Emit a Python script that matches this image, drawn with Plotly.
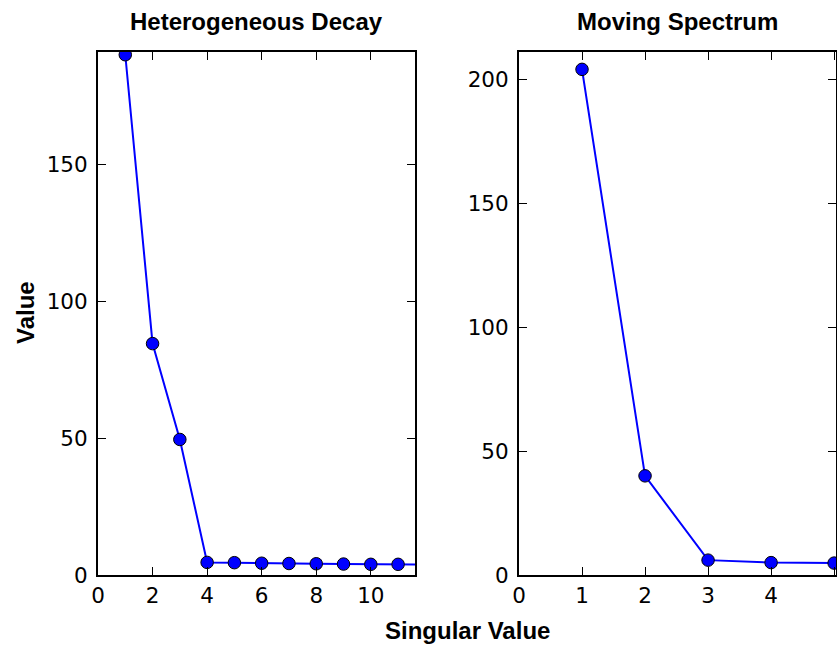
import plotly.graph_objects as go

# Data
hetero_x = [1, 2, 3, 4, 5, 6, 7, 8, 9, 10, 11, 12]
hetero_y = [190.0, 84.5, 49.5, 4.6, 4.5, 4.3, 4.2, 4.1, 4.0, 3.9, 3.9, 3.8]
moving_x = [1, 2, 3, 4, 5, 6]
moving_y = [204.0, 40.0, 6.0, 5.0, 4.8, 4.7]

left_xticks = [0, 2, 4, 6, 8, 10]
left_yticks = [0, 50, 100, 150]
right_xticks = [0, 1, 2, 3, 4, 5]
right_yticks = [0, 50, 100, 150, 200]

W, H = 837, 645
fig = go.Figure()

marker = dict(size=12.5, color="#0000ff", line=dict(color="black", width=1))
line = dict(color="#0000ff", width=2)

fig.add_trace(go.Scatter(x=hetero_x, y=hetero_y, mode="lines+markers",
                         marker=marker, line=line, xaxis="x", yaxis="y",
                         showlegend=False))
fig.add_trace(go.Scatter(x=moving_x, y=moving_y, mode="lines+markers",
                         marker=marker, line=line, xaxis="x2", yaxis="y2",
                         showlegend=False))

ydom = [1 - 575 / H, 1 - 52 / H]
tickfont = dict(family="DejaVu Sans", size=21.5, color="black")
common = dict(showline=True, linecolor="black", linewidth=2, mirror="ticks",
              ticks="inside", ticklen=8, tickwidth=1.2, tickcolor="black",
              showgrid=False, zeroline=False, tickfont=tickfont)

fig.update_layout(
    autosize=True,
    margin=dict(l=0, r=0, t=0, b=0, autoexpand=False),
    paper_bgcolor="white", plot_bgcolor="white",
    xaxis=dict(domain=[98 / W, 415 / W], range=[0, 11.62], tickvals=left_xticks,
               anchor="y", **common),
    yaxis=dict(domain=ydom, range=[0, 191], tickvals=left_yticks, anchor="x",
               ticklabelstandoff=4, **common),
    xaxis2=dict(domain=[519 / W, 836 / W], range=[0, 5.03], tickvals=right_xticks,
                anchor="y2", **common),
    yaxis2=dict(domain=ydom, range=[0, 211], tickvals=right_yticks, anchor="x2",
                ticklabelstandoff=4, **common),
)

titlefont = dict(family="Liberation Sans", size=24, color="black")
fig.add_annotation(text="<b>Heterogeneous Decay</b>", x=(98 + 415) / 2 / W, y=1 - 21 / H,
                   xref="paper", yref="paper", showarrow=False, font=titlefont,
                   xanchor="center", yanchor="middle")
fig.add_annotation(text="<b>Moving Spectrum</b>", x=(519 + 836) / 2 / W, y=1 - 21 / H,
                   xref="paper", yref="paper", showarrow=False, font=titlefont,
                   xanchor="center", yanchor="middle")
fig.add_annotation(text="<b>Singular Value</b>", x=468 / W, y=0,
                   xref="paper", yref="paper", showarrow=False, font=titlefont,
                   xanchor="center", yanchor="bottom", borderpad=0)
fig.add_annotation(text="<b>Value</b>", x=25 / W, y=1 - 313 / H,
                   xref="paper", yref="paper", showarrow=False, font=titlefont,
                   textangle=-90, xanchor="center", yanchor="middle")

fig.write_html("out.html",
               default_width="100vw", default_height="100vh",
               config={"displayModeBar": False, "responsive": True},
               post_script="document.body.style.margin='0';"
                           "document.body.style.overflow='hidden';"
                           "document.documentElement.style.overflow='hidden';")
